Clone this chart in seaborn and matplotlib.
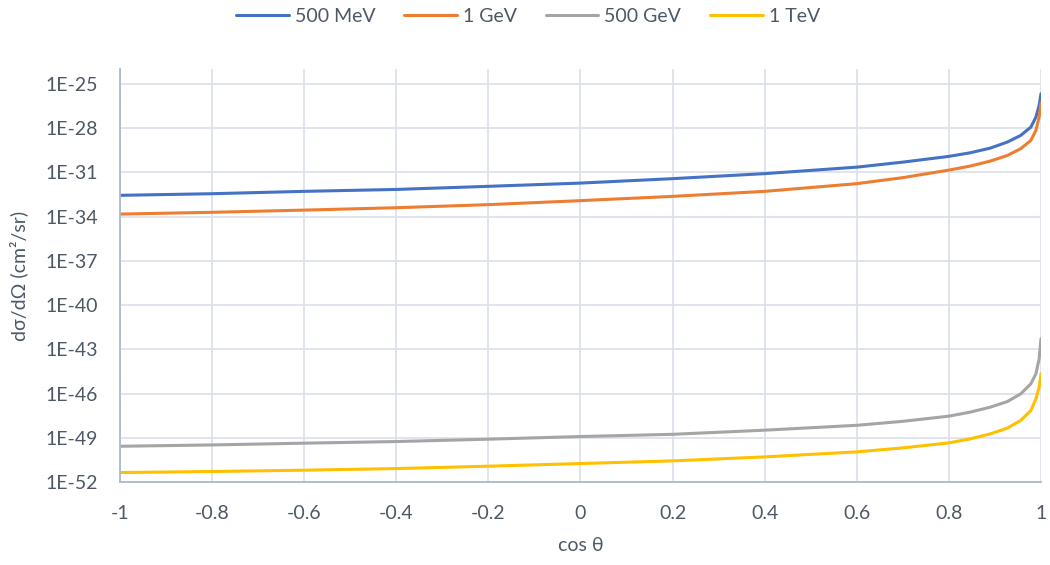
import numpy as np
import pandas as pd
import matplotlib
matplotlib.use("Agg")
import matplotlib.pyplot as plt
import seaborn as sns

# values (log10 of dσ/dΩ in cm²/sr)
cos_theta = [-1, -0.8, -0.6, -0.4, -0.2, 0, 0.2, 0.4, 0.6, 0.7,
             0.8, 0.846, 0.89, 0.927, 0.956, 0.978, 0.989, 0.996, 1.0]
log_500mev = [-32.56, -32.45, -32.29, -32.16, -31.95, -31.73, -31.43, -31.09, -30.65, -30.31,
              -29.92, -29.68, -29.36, -28.95, -28.50, -27.94, -27.26, -26.47, -25.68]
log_1gev = [-33.83, -33.71, -33.56, -33.40, -33.19, -32.92, -32.63, -32.29, -31.77, -31.36,
            -30.85, -30.58, -30.24, -29.86, -29.40, -28.84, -28.16, -27.26, -26.29]
log_500gev = [-49.56, -49.47, -49.35, -49.24, -49.08, -48.90, -48.75, -48.47, -48.14, -47.87,
              -47.52, -47.25, -46.91, -46.53, -46.01, -45.33, -44.65, -43.64, -42.28]
log_1tev = [-51.34, -51.27, -51.18, -51.07, -50.91, -50.73, -50.55, -50.28, -49.94, -49.67,
            -49.33, -49.06, -48.72, -48.33, -47.81, -47.14, -46.35, -45.56, -44.65]

series_names = ['500 MeV', '1 GeV', '500 GeV', '1 TeV']
series_logs = [log_500mev, log_1gev, log_500gev, log_1tev]
colors = ['#4472C4', '#ED7D31', '#A5A5A5', '#FFC000']

x_ticks = [-1, -0.8, -0.6, -0.4, -0.2, 0, 0.2, 0.4, 0.6, 0.8, 1]
x_labels = ['-1', '-0.8', '-0.6', '-0.4', '-0.2', '0', '0.2', '0.4', '0.6', '0.8', '1']
y_exps = [-52, -49, -46, -43, -40, -37, -34, -31, -28, -25]

frames = []
for name, logs in zip(series_names, series_logs):
    frames.append(pd.DataFrame({'cos': cos_theta,
                                'sigma': 10.0 ** np.array(logs),
                                'Energy': name}))
df = pd.concat(frames, ignore_index=True)

sns.set_style("white")
plt.rcParams['font.family'] = ['Lato', 'DejaVu Sans']
text_color = '#4D5866'
grid_color = '#DDE2EA'
axis_color = '#ADB9CA'

fig = plt.figure(figsize=(10.5, 5.65), dpi=100)
ax = fig.add_axes([0.1143, 0.1464, 0.8771, 0.7315])

sns.lineplot(data=df, x='cos', y='sigma', hue='Energy', palette=colors,
             linewidth=2.2, ax=ax, sort=False, solid_joinstyle='round')
ax.set_yscale('log')
ax.set_xlim(-1, 1)
ax.set_ylim(1e-52, 1e-24)

ax.set_xticks(x_ticks)
ax.set_xticklabels(x_labels)
ax.set_yticks([10.0 ** e for e in y_exps])
ax.set_yticklabels(['1E%d' % e for e in y_exps])
ax.minorticks_off()
ax.tick_params(axis='both', length=0, labelsize=14, colors=text_color)
ax.tick_params(axis='x', pad=16)
ax.tick_params(axis='y', pad=16)

ax.grid(True, color=grid_color, linewidth=1.3)
ax.set_axisbelow(True)
for side in ['top', 'right']:
    ax.spines[side].set_visible(False)
for side in ['left', 'bottom']:
    ax.spines[side].set_color(axis_color)
    ax.spines[side].set_linewidth(1.3)

ax.set_xlabel('cos θ', fontsize=14, color=text_color, labelpad=11)
ax.set_ylabel('dσ/dΩ (cm²/sr)', fontsize=14, color=text_color, labelpad=12)

leg = ax.legend(loc='center', bbox_to_anchor=(0.443, 1.128), ncol=4,
                frameon=False, fontsize=14, handlelength=2.7, columnspacing=1.5,
                handletextpad=0.3)
for t in leg.get_texts():
    t.set_color(text_color)
for h in leg.get_lines():
    h.set_linewidth(2.2)

fig.savefig('out.png', dpi=100)
